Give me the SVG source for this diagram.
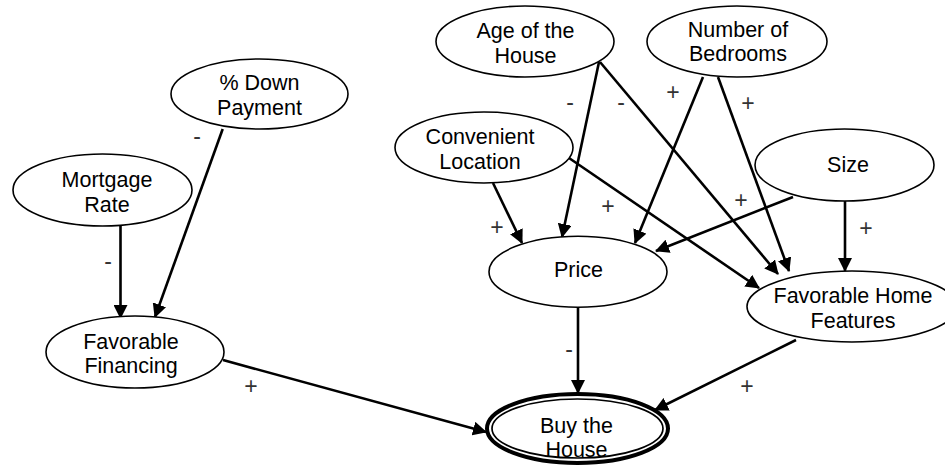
<svg xmlns="http://www.w3.org/2000/svg" width="945" height="467" viewBox="0 0 945 467">
<style>
.node ellipse{fill:#fff;stroke:#000;stroke-width:1.6}
.node text{font-family:"Liberation Sans",Arial,sans-serif;font-size:21.5px;fill:#000;text-anchor:middle}
.edge{stroke:#000;stroke-width:2.6;fill:none;marker-end:url(#ah)}
.lbl{font-family:"Liberation Sans",Arial,sans-serif;font-size:23px;fill:#333;text-anchor:middle}
</style>
<defs>
<marker id="ah" viewBox="0 0 14 14" refX="13" refY="7" markerWidth="14" markerHeight="14" markerUnits="userSpaceOnUse" orient="auto">
<path d="M0,0 L14,7 L0,14 z" fill="#000"/>
</marker>
</defs>
<rect width="945" height="467" fill="#fff"/>
<g id="connectors">
<line class="edge" x1="120.5" y1="225" x2="120.5" y2="318"/>
<line class="edge" x1="222.7" y1="129" x2="155" y2="317"/>
<line class="edge" x1="223" y1="360" x2="486" y2="432"/>
<line class="edge" x1="578" y1="307" x2="578" y2="393"/>
<line class="edge" x1="796" y1="340" x2="655" y2="410"/>
<line class="edge" x1="599" y1="62" x2="562" y2="237"/>
<line class="edge" x1="600" y1="62" x2="778" y2="274"/>
<line class="edge" x1="718" y1="77" x2="789" y2="271"/>
<line class="edge" x1="703" y1="77" x2="635" y2="243"/>
<line class="edge" x1="493" y1="183" x2="522" y2="243"/>
<line class="edge" x1="569" y1="158" x2="759" y2="288"/>
<line class="edge" x1="793" y1="197" x2="656" y2="251"/>
<line class="edge" x1="845" y1="201" x2="845" y2="271"/>
<text class="lbl" x="108" y="269">-</text>
<text class="lbl" x="197" y="144">-</text>
<text class="lbl" x="251" y="394">+</text>
<text class="lbl" x="569" y="357">-</text>
<text class="lbl" x="747" y="394">+</text>
<text class="lbl" x="570" y="110">-</text>
<text class="lbl" x="621" y="110">-</text>
<text class="lbl" x="673" y="100">+</text>
<text class="lbl" x="748" y="111">+</text>
<text class="lbl" x="497" y="235">+</text>
<text class="lbl" x="608" y="214">+</text>
<text class="lbl" x="741" y="208">+</text>
<text class="lbl" x="866" y="236">+</text>
</g>
<g id="down-payment" class="node">
<ellipse cx="259.5" cy="94" rx="88.5" ry="35"/>
<text x="259.5" y="90">% Down</text>
<text x="259.5" y="115">Payment</text>
</g>
<g id="mortgage-rate" class="node">
<ellipse cx="102.5" cy="190" rx="89.5" ry="36"/>
<text x="107" y="187">Mortgage</text>
<text x="107" y="212">Rate</text>
</g>
<g id="favorable-financing" class="node">
<ellipse cx="135" cy="352" rx="89" ry="36"/>
<text x="131" y="349">Favorable</text>
<text x="131" y="373">Financing</text>
</g>
<g id="age" class="node">
<ellipse cx="525" cy="41.5" rx="89" ry="35.5"/>
<text x="525.5" y="37.5">Age of the</text>
<text x="525.5" y="62.5">House</text>
</g>
<g id="bedrooms" class="node">
<ellipse cx="737" cy="41.5" rx="90" ry="35.5"/>
<text x="738" y="36.5">Number of</text>
<text x="738" y="61">Bedrooms</text>
</g>
<g id="convenient-location" class="node">
<ellipse cx="484" cy="147.5" rx="89" ry="35.5"/>
<text x="480" y="144">Convenient</text>
<text x="480" y="169">Location</text>
</g>
<g id="size" class="node">
<ellipse cx="844.5" cy="165" rx="89.5" ry="36"/>
<text x="848" y="172">Size</text>
</g>
<g id="price" class="node">
<ellipse cx="578" cy="271.7" rx="89" ry="35.5"/>
<text x="578.5" y="277">Price</text>
</g>
<g id="home-features" class="node">
<ellipse cx="852" cy="306.5" rx="105" ry="35.5"/>
<text x="853" y="303">Favorable Home</text>
<text x="853" y="328">Features</text>
</g>
<g id="buy-house" class="node">
<ellipse cx="577.5" cy="428.5" rx="90.5" ry="34.5" style="stroke-width:4"/>
<ellipse cx="577.5" cy="428.5" rx="85.5" ry="29.5" style="stroke-width:1.7"/>
<text x="576.5" y="433">Buy the</text>
<text x="576.5" y="457">House</text>
</g>
</svg>
